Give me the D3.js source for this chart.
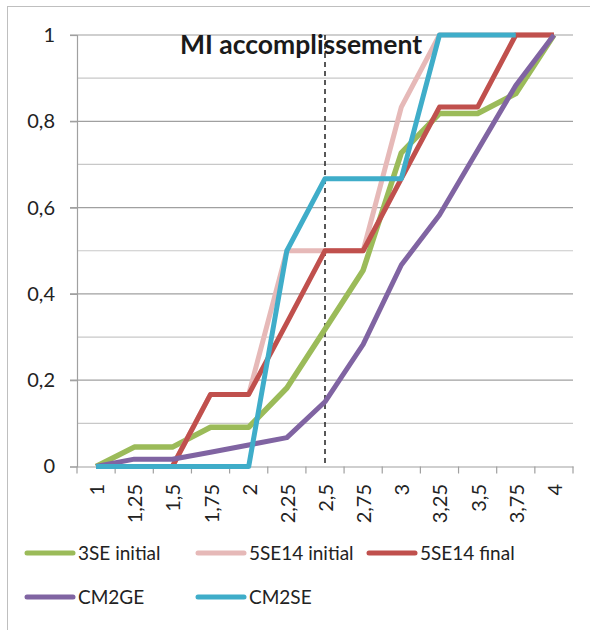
<!DOCTYPE html>
<html>
<head>
<meta charset="utf-8">
<script src="https://cdn.jsdelivr.net/npm/d3@7"></script>
<style>
  body { margin: 0; background: #fff; }
  svg { display: block; font-family: Lato, "Open Sans", sans-serif; }
</style>
</head>
<body>
<div id="chart"></div>
<script>
const categories = ["1", "1,25", "1,5", "1,75", "2", "2,25", "2,5", "2,75", "3", "3,25", "3,5", "3,75", "4"];
const seriesNames = ["3SE initial", "5SE14 initial", "5SE14 final", "CM2GE", "CM2SE"];
const seriesColors = ["#9bbb59", "#e6b9b8", "#c0504d", "#8064a2", "#3fadc9"];
const se3Initial = [0, 0.045, 0.045, 0.091, 0.091, 0.182, 0.318, 0.455, 0.727, 0.818, 0.818, 0.864, 1];
const se14Initial = [0, 0, 0, 0.167, 0.167, 0.5, 0.5, 0.5, 0.833, 1, 1, 1, 1];
const se14Final = [0, 0, 0, 0.167, 0.167, 0.333, 0.5, 0.5, 0.667, 0.833, 0.833, 1, 1];
const cm2ge = [0, 0.017, 0.017, 0.033, 0.05, 0.067, 0.15, 0.283, 0.467, 0.583, 0.733, 0.883, 1];
const cm2se = [0, 0, 0, 0, 0, 0.5, 0.667, 0.667, 0.667, 1, 1, 1, null];
const yTicks = [0, 0.2, 0.4, 0.6, 0.8, 1];
const markerCategory = "2,5";
const titleText = "MI accomplissement";

const allSeries = [se3Initial, se14Initial, se14Final, cm2ge, cm2se];

const width = 590, height = 630;
const svg = d3.select("#chart").append("svg")
  .attr("width", width)
  .attr("height", height);

// outer chart frame
svg.append("rect")
  .attr("x", 7.5).attr("y", 6.5)
  .attr("width", 640).attr("height", 700)
  .attr("fill", "none")
  .attr("stroke", "#bfbfbf");

const x = d3.scaleBand().domain(categories).range([77, 573]);
const y = d3.scaleLinear().domain([0, 1]).range([466.5, 35]);
const cx = (c) => x(c) + x.bandwidth() / 2;

// gridlines
const minor = d3.range(1, 10, 2).map((d) => d / 10);
svg.append("g").selectAll("line")
  .data(minor)
  .join("line")
  .attr("x1", 77).attr("x2", 573)
  .attr("y1", (d) => y(d)).attr("y2", (d) => y(d))
  .attr("stroke", "#c8c8c8").attr("stroke-width", 1.2);
svg.append("g").selectAll("line")
  .data(yTicks.slice(1))
  .join("line")
  .attr("x1", 70).attr("x2", 573)
  .attr("y1", (d) => y(d)).attr("y2", (d) => y(d))
  .attr("stroke", "#a0a0a0").attr("stroke-width", 1.2);

// y axis
const yAxis = svg.append("g")
  .attr("transform", "translate(77,0)")
  .call(d3.axisLeft(y).tickValues(yTicks).tickSize(7).tickPadding(15)
    .tickFormat((d) => String(d).replace(".", ",")));
yAxis.select(".domain").attr("stroke", "#a0a0a0").attr("stroke-width", 1.2);
yAxis.selectAll(".tick line").attr("stroke", "#a0a0a0").attr("stroke-width", 1.2);
yAxis.selectAll("text").attr("font-size", 20).attr("font-family", "Lato").attr("fill", "#222");

// x axis
const xAxis = svg.append("g")
  .attr("transform", `translate(0,${y(0)})`)
  .call(d3.axisBottom(x).tickSize(0).tickFormat(""));
xAxis.select(".domain").attr("stroke", "#a0a0a0").attr("stroke-width", 1.2);
const bounds = categories.map((c) => x(c)).concat([x.range()[1]]);
svg.append("g").selectAll("line")
  .data(bounds)
  .join("line")
  .attr("x1", (d) => d).attr("x2", (d) => d)
  .attr("y1", y(0)).attr("y2", y(0) + 7)
  .attr("stroke", "#a0a0a0").attr("stroke-width", 1.2);
svg.append("g").selectAll("text")
  .data(categories)
  .join("text")
  .attr("transform", (d) => `translate(${cx(d) + 1},484) rotate(-90)`)
  .attr("text-anchor", "end")
  .attr("dy", "0.35em")
  .attr("font-size", 20)
  .attr("fill", "#222")
  .text((d) => d);

// title
svg.append("text")
  .attr("x", 301).attr("y", 54)
  .attr("text-anchor", "middle")
  .attr("font-size", 26.5)
  .attr("font-weight", "bold")
  .attr("fill", "#1a1a1a")
  .text(titleText);

// dashed marker
svg.append("line")
  .attr("x1", cx(markerCategory)).attr("x2", cx(markerCategory))
  .attr("y1", y(1)).attr("y2", y(0))
  .attr("stroke", "#222").attr("stroke-width", 1.5)
  .attr("stroke-dasharray", "5,4");

// series lines
const line = d3.line()
  .defined((d) => d != null)
  .x((d, i) => cx(categories[i]))
  .y((d) => y(d));
svg.append("g").selectAll("path")
  .data(allSeries)
  .join("path")
  .attr("d", line)
  .attr("fill", "none")
  .attr("stroke", (d, i) => seriesColors[i])
  .attr("stroke-width", (d, i) => (i === 0 ? 5.5 : 5))
  .attr("stroke-linejoin", "round");

// legend
const legendPos = [[25, 553], [196, 553], [367, 553], [25, 597], [196, 597]];
const legend = svg.append("g").selectAll("g")
  .data(seriesNames)
  .join("g")
  .attr("transform", (d, i) => `translate(${legendPos[i][0]},${legendPos[i][1]})`);
legend.append("line")
  .attr("x1", 2).attr("x2", 48)
  .attr("stroke", (d, i) => seriesColors[i])
  .attr("stroke-width", 5)
  .attr("stroke-linecap", "round");
legend.append("text")
  .attr("x", 53)
  .attr("dy", "0.35em")
  .attr("font-size", 19)
  .attr("fill", "#222")
  .text((d) => d);
</script>
</body>
</html>
